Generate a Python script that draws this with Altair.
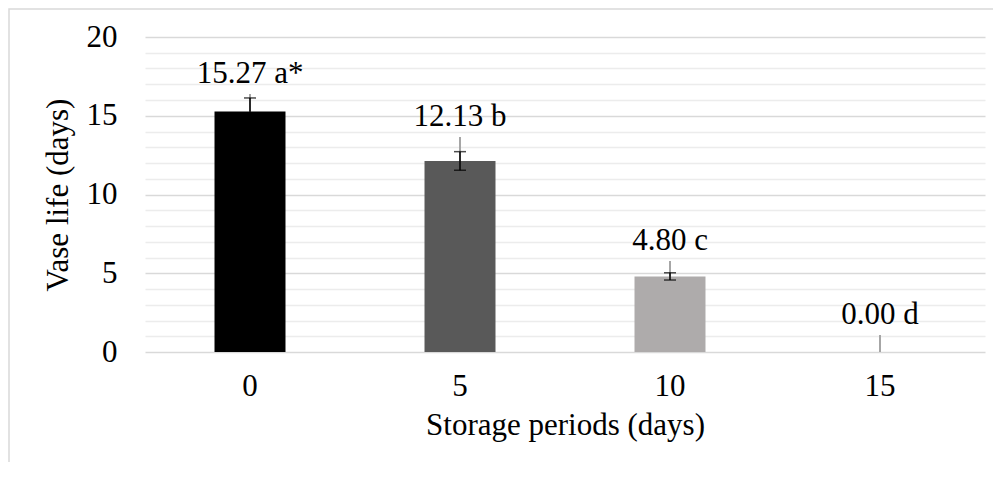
import altair as alt
import pandas as pd

periods = ["0", "5", "10", "15"]
vase_life = [15.27, 12.13, 4.80, 0.00]
std_err = [0.86, 0.59, 0.23, 0.00]
leader_top = [16.38, 13.65, 5.78, 1.08]
letters = ["a*", "b", "c", "d"]
bar_colors = ["#000000", "#595959", "#AEABAB", "#FFFFFF"]
y_ticks = list(range(0, 21))

df = pd.DataFrame({
    "period": periods,
    "life": vase_life,
    "se": std_err,
    "lead": leader_top,
    "label": [f"{v:.2f} {l}" for v, l in zip(vase_life, letters)],
    "color": bar_colors,
})
df["lo"] = df["life"] - df["se"]
df["hi"] = df["life"] + df["se"]

W, H = 840, 315
FONT = "'Liberation Serif', 'Times New Roman', 'DejaVu Serif', serif"
FS = 31

xscale = alt.Scale(domain=periods, paddingInner=0.662, paddingOuter=0.331)
yscale = alt.Scale(domain=[0, 20], nice=False)

xaxis = alt.Axis(title="Storage periods (days)", labelAngle=0, ticks=False, tickSize=0,
                 domain=False, grid=False, labelPadding=43, labelBaseline="alphabetic",
                 labelFont=FONT, labelFontSize=FS, labelColor="black",
                 titleFont=FONT, titleFontSize=FS, titleFontWeight="normal",
                 titleColor="black", titleX=W / 2, titleY=82, titleAlign="center",
                 titleBaseline="alphabetic")
yaxis = alt.Axis(title="Vase life (days)", values=y_ticks,
                 labelExpr="datum.value % 5 === 0 ? datum.label : ''",
                 ticks=False, tickSize=0, domain=False, labelPadding=28,
                 labelFont=FONT, labelFontSize=FS, labelColor="black",
                 gridColor={"condition": {"test": "datum.value % 5 === 0", "value": "#d9d9d9"},
                            "value": "#ececec"},
                 gridWidth=1.5,
                 titleFont=FONT, titleFontSize=FS, titleFontWeight="normal",
                 titleColor="black", titleX=-87, titleY=H / 2, titleAngle=-90,
                 titleAlign="center", titleBaseline="middle")


def xe():
    return alt.X("period:N", sort=periods, scale=xscale, axis=xaxis)


def yq(field):
    return alt.Y(field, scale=yscale, axis=yaxis)


bars = alt.Chart(df).mark_bar().encode(
    x=xe(), y=yq("life:Q"),
    color=alt.Color("color:N", scale=None),
)

leaders = alt.Chart(df).mark_rule(color="#a6a6a6", strokeWidth=2).encode(
    x=xe(), y=yq("life:Q"), y2="lead:Q"
)

df_err = df[df["se"] > 0]
err = alt.Chart(df_err).mark_rule(color="black", strokeWidth=1.5).encode(
    x=xe(), y=yq("lo:Q"), y2="hi:Q"
)
cap_hi = alt.Chart(df_err).mark_tick(color="black", thickness=1.5, size=12, orient="horizontal").encode(
    x=xe(), y=yq("hi:Q")
)
cap_lo = alt.Chart(df_err).mark_tick(color="black", thickness=1.5, size=12, orient="horizontal").encode(
    x=xe(), y=yq("lo:Q")
)

labels = alt.Chart(df).mark_text(font=FONT, fontSize=FS, color="black", baseline="alphabetic", dy=-11).encode(
    x=xe(), y=yq("lead:Q"), text="label:N"
)

frame = alt.Chart(pd.DataFrame({"a": [0]})).mark_rect(fill=None, stroke="#d9d9d9", strokeWidth=1.5).encode(
    x=alt.value(-136), y=alt.value(-28), x2=alt.value(W + 60), y2=alt.value(H + 300)
)

chart = alt.layer(frame, bars, leaders, err, cap_hi, cap_lo, labels).properties(
    width=W, height=H,
    autosize=alt.AutoSizeParams(type="none"),
    padding={"left": 137, "top": 29, "right": 8, "bottom": 110},
).configure(
    background="white", font=FONT,
    view={"strokeWidth": 0, "stroke": "transparent"},
).configure_axis(
    labelFont=FONT, titleFont=FONT
).configure_text(font=FONT)

chart.save("out.html", embed_options={"renderer": "svg", "actions": False})
